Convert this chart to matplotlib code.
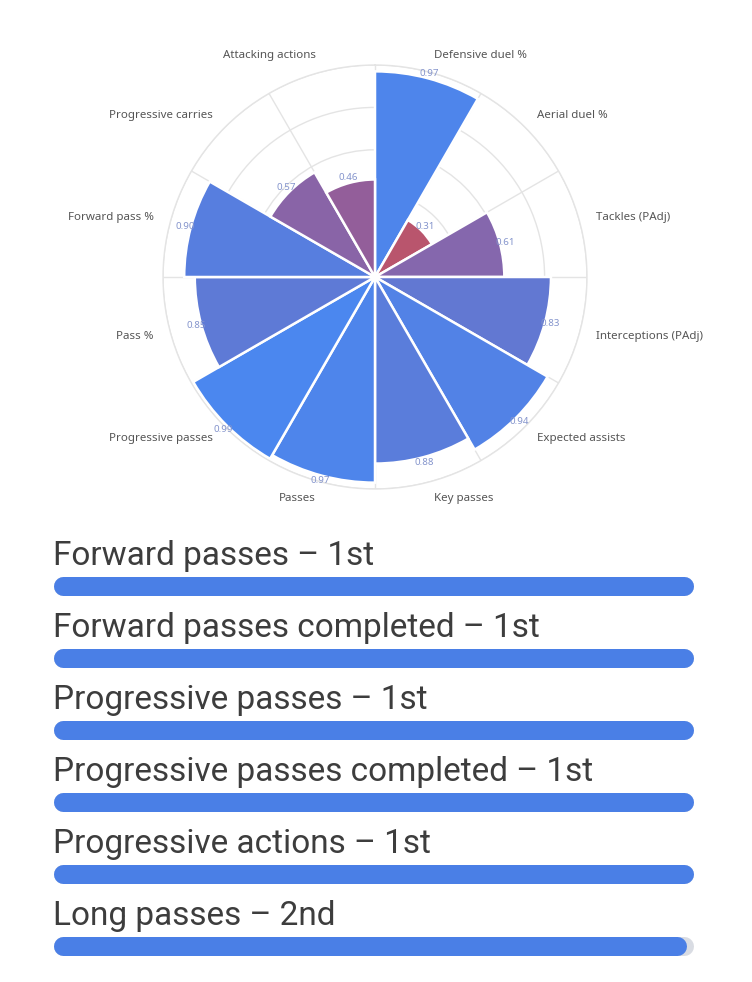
import numpy as np
import matplotlib
matplotlib.use("Agg")
import matplotlib.pyplot as plt
from matplotlib.colors import LinearSegmentedColormap, Normalize

categories = ["Defensive duel %", "Aerial duel %", "Tackles (PAdj)", "Interceptions (PAdj)",
              "Expected assists", "Key passes", "Passes", "Progressive passes",
              "Pass %", "Forward pass %", "Progressive carries", "Attacking actions"]
values = [0.97, 0.31, 0.61, 0.83, 0.94, 0.88, 0.97, 0.99, 0.85, 0.90, 0.57, 0.46]

rank_labels = ["Forward passes – 1st", "Forward passes completed – 1st", "Progressive passes – 1st",
               "Progressive passes completed – 1st", "Progressive actions – 1st", "Long passes – 2nd"]
rank_values = [1.0, 1.0, 1.0, 1.0, 1.0, 0.99]

W, H = 752, 982
fig = plt.figure(figsize=(W / 100, H / 100), dpi=100)
fig.patch.set_facecolor("white")

# ---- polar chart ----
cx, cy, R = 375, 277, 212
ax = fig.add_axes([(cx - R) / W, (H - cy - R) / H, 2 * R / W, 2 * R / H], projection="polar")
ax.set_theta_zero_location("N")
ax.set_theta_direction(-1)
ax.set_ylim(0, 1)

n = len(categories)
step = 2 * np.pi / n
theta = np.arange(n) * step + step / 2

cmap = LinearSegmentedColormap.from_list(
    "rb", [(0.0, "#bb556a"), (0.23, "#935e9b"), (0.43, "#8666ab"),
           (0.78, "#5f79d5"), (1.0, "#4a88f0")])
norm = Normalize(0.3, 1.0)
colors = [cmap(norm(v)) for v in values]

ax.bar(theta, values, width=step, bottom=0, color=colors, edgecolor="white",
       linewidth=1.8, zorder=3, align="center")

ax.set_xticks(np.arange(n) * step)
ax.set_xticklabels([])
ax.set_yticks([0.2, 0.4, 0.6, 0.8, 1.0])
ax.set_yticklabels([])
ax.grid(True, color="#e4e4e4", linewidth=1.0, zorder=0)
ax.spines["polar"].set_color("#e4e4e4")
ax.spines["polar"].set_linewidth(1.0)
ax.tick_params(length=0)

for t, c, v in zip(theta, categories, values):
    s = np.sin(t)
    ha = "left" if s > 0.01 else ("right" if s < -0.01 else "center")
    ax.text(t, 1.08, c, ha=ha, va="center", fontsize=8.3, color="#555555",
            family="Noto Sans", zorder=5)
    ax.text(t, v + 0.025, f"{v:.2f}", ha="center", va="center", fontsize=7,
            color="#8494cc", family="Noto Sans", zorder=5)

# ---- ranking bars ----
cap = 9.5
bx0, bx1 = 53 + cap, 693 - cap
top = 550
rows = len(rank_labels)
bax = fig.add_axes([bx0 / W, (H - top - 72 * rows) / H, (bx1 - bx0) / W, 72 * rows / H])
bax.set_xlim(0, 1)
bax.set_ylim(rows - 0.5, -0.5)
bax.axis("off")
lw_pt = 19 * 72 / 100
for i, (lab, v) in enumerate(zip(rank_labels, rank_values)):
    bax.plot([0, 1], [i, i], color="#d9dce3", linewidth=lw_pt, solid_capstyle="round",
             zorder=1, clip_on=False)
    bax.plot([0, v], [i, i], color="#4a7fe6", linewidth=lw_pt, solid_capstyle="round",
             zorder=2, clip_on=False)
    bax.annotate(lab, xy=(0, i), xytext=(-cap * 0.72, 21 * 0.72), textcoords="offset points",
                 ha="left", va="baseline", fontsize=24, color="#3d3d3d", family="Roboto",
                 annotation_clip=False)

fig.savefig("out.png", dpi=100, facecolor="white")
